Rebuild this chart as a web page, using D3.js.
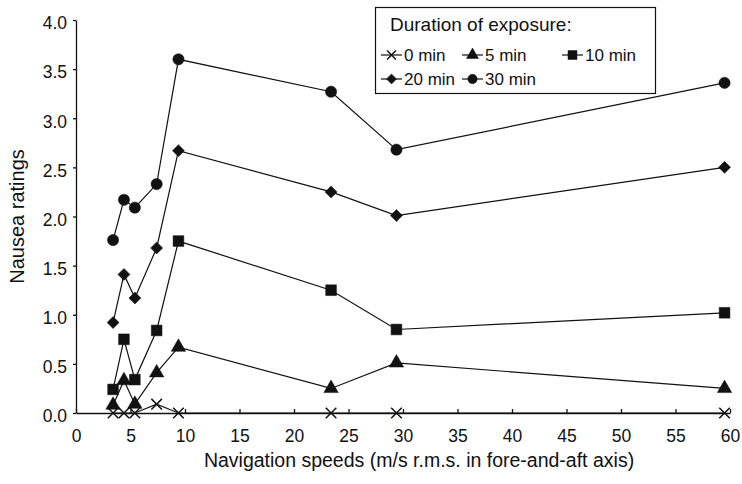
<!DOCTYPE html>
<html>
<head>
<meta charset="utf-8">
<script src="https://cdn.jsdelivr.net/npm/d3@7"></script>
<style>
  body { margin: 0; background: #fff; }
  svg { display: block; font-family: "Liberation Sans", Arial, sans-serif; }
</style>
</head>
<body>
<div id="chart"></div>
<script>
// Navigation speeds (x) and nausea ratings for each exposure duration
const speeds = [3.4, 4.4, 5.4, 7.4, 9.4, 23.4, 29.4, 59.5];
const min0  = [0, 0, 0, 0.09, 0, 0, 0, 0];
const min5  = [0.08, 0.33, 0.09, 0.41, 0.67, 0.25, 0.51, 0.25];
const min10 = [0.24, 0.75, 0.34, 0.84, 1.75, 1.25, 0.85, 1.02];
const min20 = [0.92, 1.41, 1.17, 1.68, 2.67, 2.25, 2.01, 2.50];
const min30 = [1.76, 2.17, 2.09, 2.33, 3.60, 3.27, 2.68, 3.36];
const seriesNames = ["0 min", "5 min", "10 min", "20 min", "30 min"];
const xTicks = d3.range(0, 61, 5);
const yTicks = d3.range(0, 4.01, 0.5);

const width = 742, height = 484;
const ink = "#111";

// diamond = square turned 45 degrees, wider than d3's own diamond
const series = [
  { name: seriesNames[0], values: min0,  symbol: d3.symbolTimes,    size: 75,  fill: false, rot: 0 },
  { name: seriesNames[1], values: min5,  symbol: d3.symbolTriangle, size: 90,  fill: true,  rot: 0 },
  { name: seriesNames[2], values: min10, symbol: d3.symbolSquare,   size: 115, fill: true,  rot: 0 },
  { name: seriesNames[3], values: min20, symbol: d3.symbolSquare,   size: 72,  fill: true,  rot: 45 },
  { name: seriesNames[4], values: min30, symbol: d3.symbolCircle,   size: 100, fill: true,  rot: 0 }
];

const svg = d3.select("#chart").append("svg")
  .attr("width", width)
  .attr("height", height);

// Scales
const x = d3.scaleLinear().domain([0, 60]).range([76, 730]);
const y = d3.scaleLinear().domain([0, 4]).range([413, 20]);

// X axis (ticks pointing inward)
const xAxis = svg.append("g")
  .attr("transform", `translate(0,${y(0)})`)
  .call(d3.axisBottom(x).tickValues(xTicks).tickSizeInner(-4).tickSizeOuter(0).tickPadding(17));
xAxis.selectAll("text").attr("font-size", 17.5).attr("fill", ink).attr("font-family", null);

// Y axis
const yAxis = svg.append("g")
  .attr("transform", `translate(${x(0)},0)`)
  .call(d3.axisLeft(y).tickValues(yTicks).tickFormat(d3.format(".1f")).tickSizeInner(3).tickSizeOuter(0).tickPadding(6));
yAxis.selectAll("text").attr("font-size", 17.5).attr("fill", ink).attr("font-family", null).attr("dy", "0.5em");
svg.selectAll(".domain, .tick line").attr("stroke", ink).attr("stroke-width", 1.3);

// Axis titles
svg.append("text")
  .attr("x", 419)
  .attr("y", 467)
  .attr("text-anchor", "middle")
  .attr("font-size", 19.5)
  .attr("fill", ink)
  .text("Navigation speeds (m/s r.m.s. in fore-and-aft axis)");

svg.append("text")
  .attr("transform", `translate(24,${(y(0) + y(4)) / 2}) rotate(-90)`)
  .attr("text-anchor", "middle")
  .attr("font-size", 20)
  .attr("fill", ink)
  .text("Nausea ratings");

// Lines
const line = d3.line()
  .x((d, i) => x(speeds[i]))
  .y(d => y(d));

const drawMarker = (sel, s) => {
  sel.attr("d", d3.symbol().type(s.symbol).size(s.size))
    .attr("fill", s.fill ? ink : "none")
    .attr("stroke", ink)
    .attr("stroke-width", s.fill ? 0.5 : 1.5);
};

series.forEach(s => {
  svg.append("path")
    .datum(s.values)
    .attr("fill", "none")
    .attr("stroke", ink)
    .attr("stroke-width", 1.2)
    .attr("d", line);

  svg.append("g").selectAll("path")
    .data(s.values)
    .join("path")
    .attr("transform", (d, i) => `translate(${x(speeds[i])},${y(d)}) rotate(${s.rot})`)
    .call(sel => drawMarker(sel, s));
});

// Legend
const legend = svg.append("g");
legend.append("rect")
  .attr("x", 375.5).attr("y", 7.5)
  .attr("width", 280).attr("height", 86)
  .attr("fill", "#fff")
  .attr("stroke", ink)
  .attr("stroke-width", 1.2);

legend.append("text")
  .attr("x", 390).attr("y", 31)
  .attr("font-size", 19)
  .attr("fill", ink)
  .text("Duration of exposure:");

const legendPos = [[381, 55], [462, 55], [562, 55], [381, 79], [462, 79]];
series.forEach((s, i) => {
  const [lx, ly] = legendPos[i];
  const item = legend.append("g").attr("transform", `translate(${lx},${ly})`);
  item.append("line")
    .attr("x1", 0).attr("x2", 21)
    .attr("stroke", ink).attr("stroke-width", 1.2);
  item.append("path")
    .attr("transform", `translate(10.5,0) rotate(${s.rot})`)
    .call(sel => drawMarker(sel, { ...s, size: s.size * 0.7 }));
  item.append("text")
    .attr("x", 23).attr("y", 6)
    .attr("font-size", 17)
    .attr("fill", ink)
    .text(s.name);
});
</script>
</body>
</html>
